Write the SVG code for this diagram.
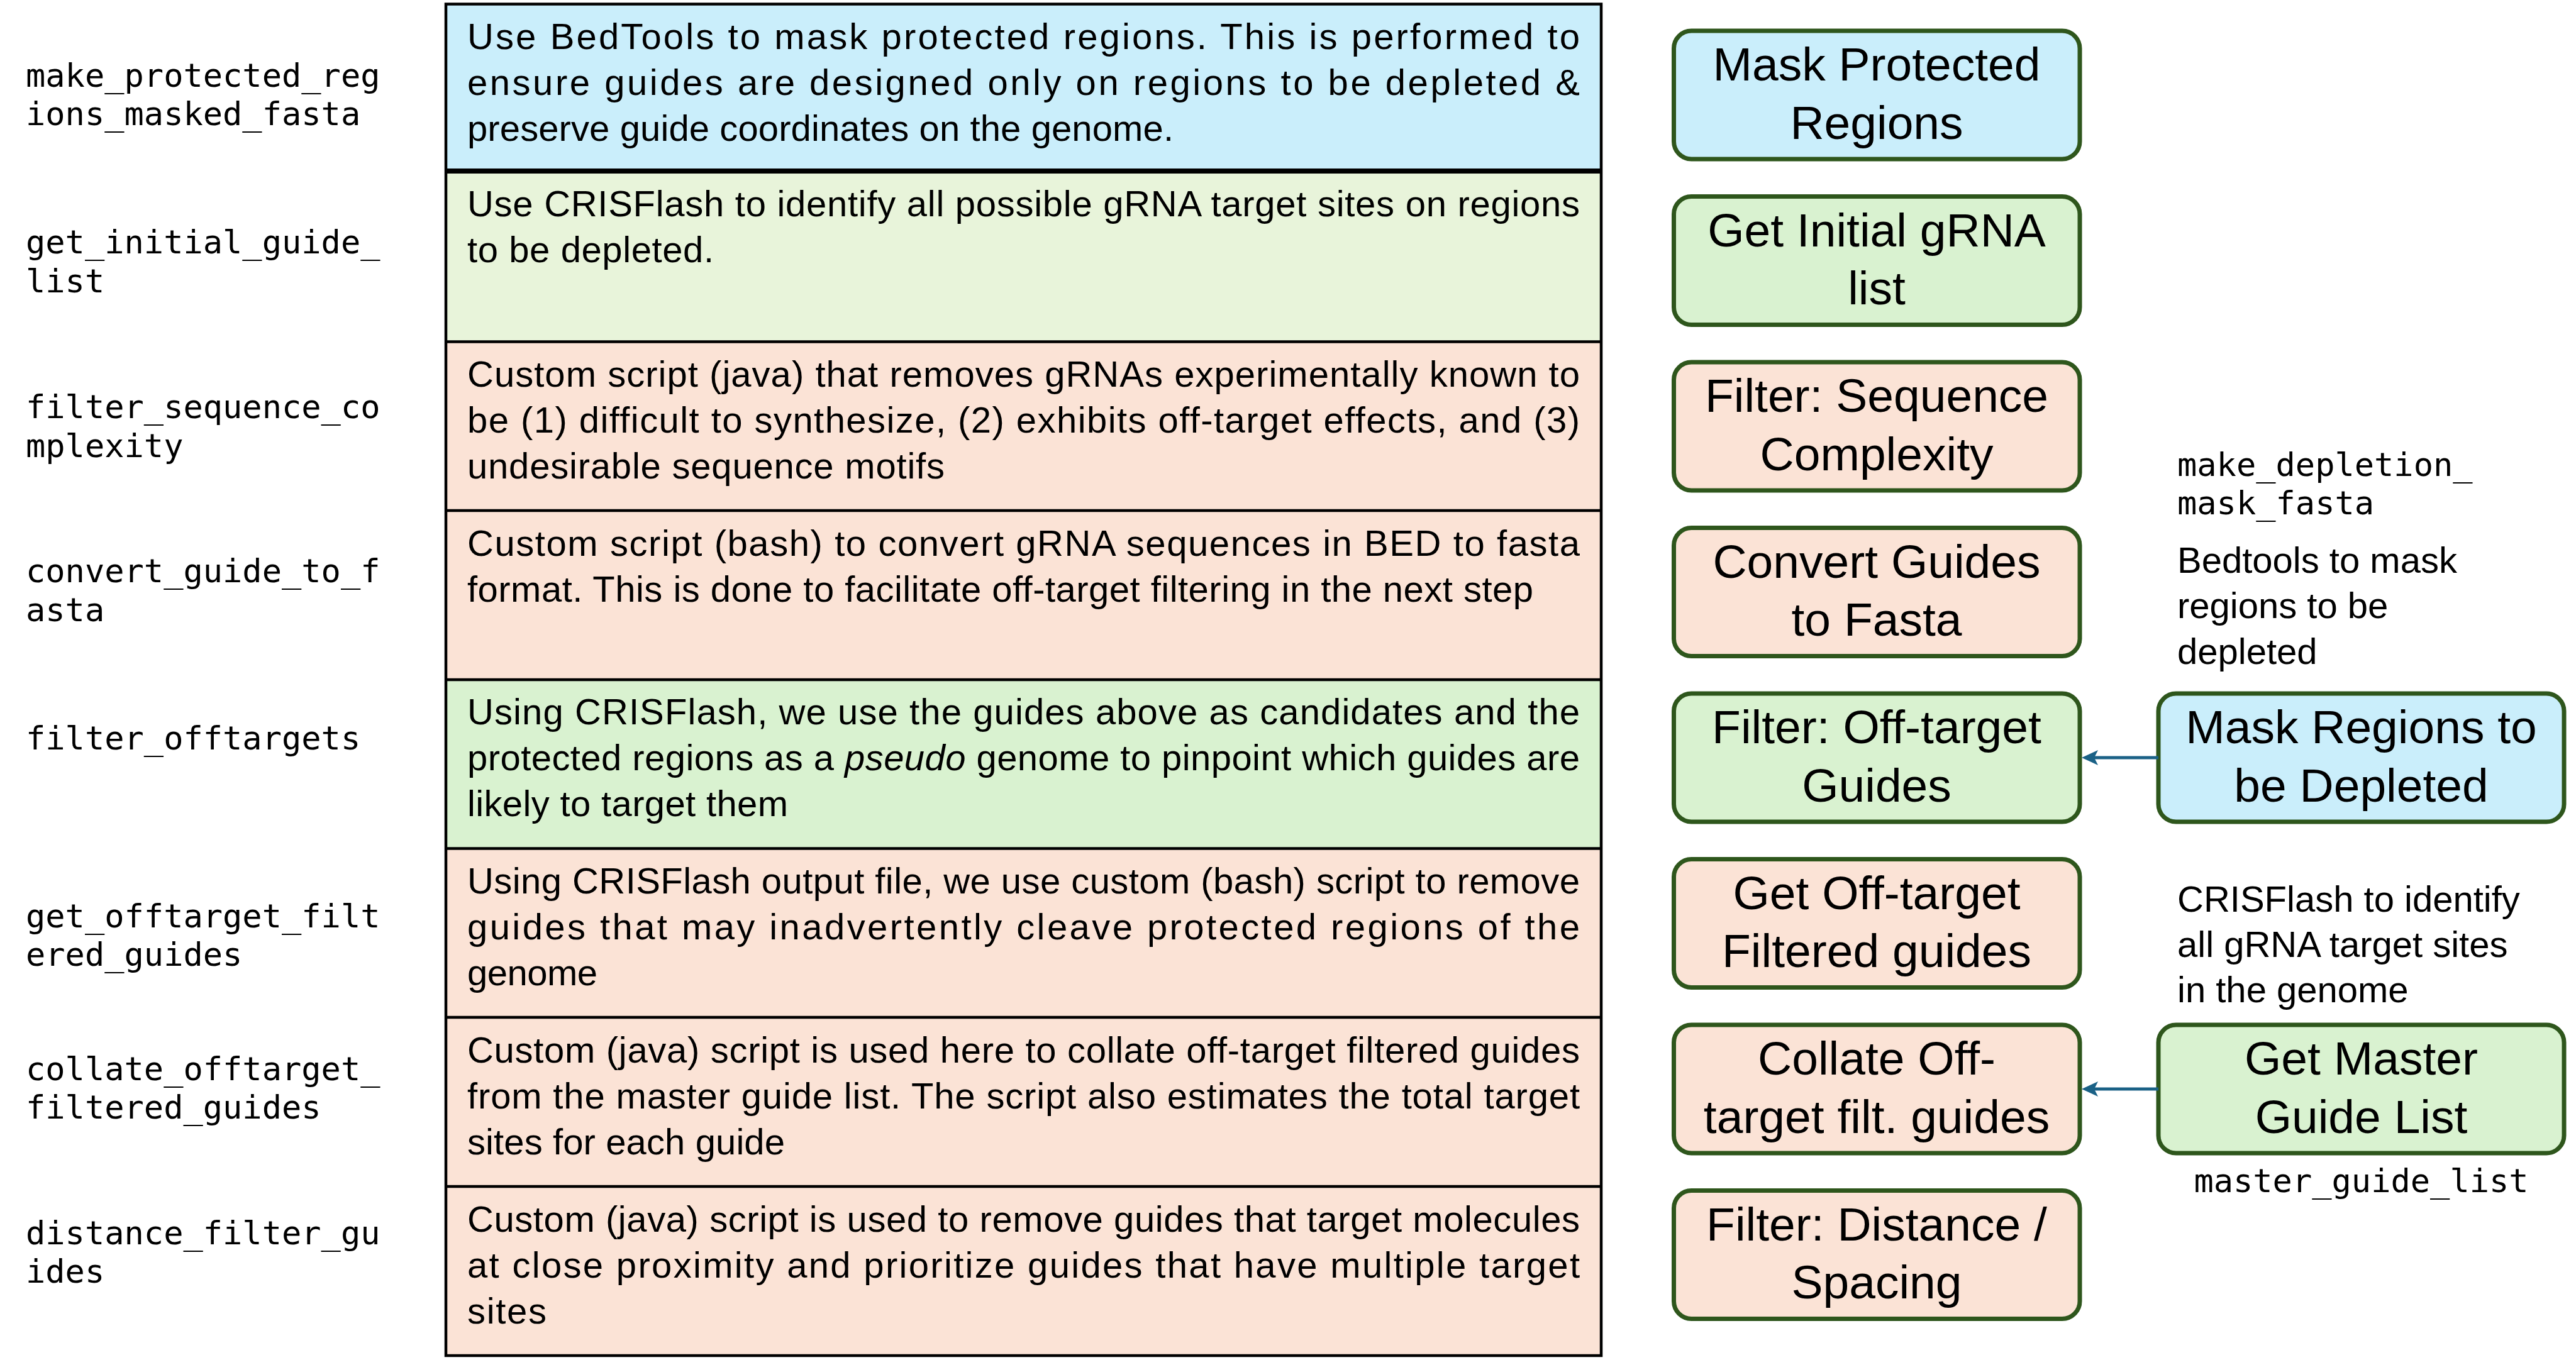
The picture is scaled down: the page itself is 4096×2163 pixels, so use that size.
<svg xmlns="http://www.w3.org/2000/svg" width="4096" height="2163" viewBox="0 0 4096 2163">
<style>
.lbl{font-family:"DejaVu Sans Mono","Liberation Mono",monospace;font-size:52px;fill:#000}
.txt{font-family:"Liberation Sans",Arial,sans-serif;font-size:58px;fill:#000}
.bt{font-family:"Liberation Sans",Arial,sans-serif;font-size:75px;fill:#000;text-anchor:middle}
.box{stroke:#2E561C;stroke-width:7}
.blue{fill:#CAEEFB}.green{fill:#D9F2D0}.peach{fill:#FBE3D6}.pgreen{fill:#E8F4DA}
.div{stroke:#000;stroke-width:4.5}
.conn{stroke:#1A6186;stroke-width:5;fill:none}
</style>
<defs>
<marker id="ah" markerUnits="userSpaceOnUse" markerWidth="26" markerHeight="24" viewBox="0 0 26 24" refX="6" refY="12" orient="auto"><path d="M0,0 L26,12 L0,24 L6,12 Z" fill="#1A6186"/></marker>
</defs>
<rect width="4096" height="2163" fill="#fff"/>

<g id="table">
<g id="row1">
<rect x="709" y="6.5" width="1837" height="265.5" class="blue"/>
<text class="lbl" x="41" y="138">make_protected_reg</text>
<text class="lbl" x="41" y="199">ions_masked_fasta</text>
<text class="txt" x="743" y="78" textLength="1769">Use BedTools to mask protected regions. This is performed to</text>
<text class="txt" x="743" y="151" textLength="1769">ensure guides are designed only on regions to be depleted &amp;</text>
<text class="txt" x="743" y="224" textLength="1123">preserve guide coordinates on the genome.</text>
</g>
<g id="row2">
<rect x="709" y="272" width="1837" height="271.5" class="pgreen"/>
<text class="lbl" x="41" y="403">get_initial_guide_</text>
<text class="lbl" x="41" y="465">list</text>
<text class="txt" x="743" y="344" textLength="1769">Use CRISFlash to identify all possible gRNA target sites on regions</text>
<text class="txt" x="743" y="417" textLength="392">to be depleted.</text>
</g>
<g id="row3">
<rect x="709" y="543.5" width="1837" height="268.5" class="peach"/>
<text class="lbl" x="41" y="665">filter_sequence_co</text>
<text class="lbl" x="41" y="727">mplexity</text>
<text class="txt" x="743" y="615" textLength="1769">Custom script (java) that removes gRNAs experimentally known to</text>
<text class="txt" x="743" y="688" textLength="1769">be (1) difficult to synthesize, (2) exhibits off-target effects, and (3)</text>
<text class="txt" x="743" y="761" textLength="759">undesirable sequence motifs</text>
</g>
<g id="row4">
<rect x="709" y="812" width="1837" height="269" class="peach"/>
<text class="lbl" x="41" y="926">convert_guide_to_f</text>
<text class="lbl" x="41" y="988">asta</text>
<text class="txt" x="743" y="883.5" textLength="1769">Custom script (bash) to convert gRNA sequences in BED to fasta</text>
<text class="txt" x="743" y="956.5" textLength="1695">format. This is done to facilitate off-target filtering in the next step</text>
</g>
<g id="row5">
<rect x="709" y="1081" width="1837" height="268.5" class="green"/>
<text class="lbl" x="41" y="1192">filter_offtargets</text>
<text class="txt" x="743" y="1152" textLength="1769">Using CRISFlash, we use the guides above as candidates and the</text>
<text class="txt" x="743" y="1225" textLength="1769">protected regions as a <tspan font-style="italic">pseudo</tspan> genome to pinpoint which guides are</text>
<text class="txt" x="743" y="1298" textLength="510">likely to target them</text>
</g>
<g id="row6">
<rect x="709" y="1349.5" width="1837" height="268.5" class="peach"/>
<text class="lbl" x="41" y="1475">get_offtarget_filt</text>
<text class="lbl" x="41" y="1536">ered_guides</text>
<text class="txt" x="743" y="1420.5" textLength="1769">Using CRISFlash output file, we use custom (bash) script to remove</text>
<text class="txt" x="743" y="1493.5" textLength="1769">guides that may inadvertently cleave protected regions of the</text>
<text class="txt" x="743" y="1566.5" textLength="207">genome</text>
</g>
<g id="row7">
<rect x="709" y="1618" width="1837" height="269" class="peach"/>
<text class="lbl" x="41" y="1718">collate_offtarget_</text>
<text class="lbl" x="41" y="1779">filtered_guides</text>
<text class="txt" x="743" y="1689.5" textLength="1769">Custom (java) script is used here to collate off-target filtered guides</text>
<text class="txt" x="743" y="1762.5" textLength="1769">from the master guide list. The script also estimates the total target</text>
<text class="txt" x="743" y="1835.5" textLength="505">sites for each guide</text>
</g>
<g id="row8">
<rect x="709" y="1887" width="1837" height="269" class="peach"/>
<text class="lbl" x="41" y="1979">distance_filter_gu</text>
<text class="lbl" x="41" y="2040">ides</text>
<text class="txt" x="743" y="1958.5" textLength="1769">Custom (java) script is used to remove guides that target molecules</text>
<text class="txt" x="743" y="2031.5" textLength="1769">at close proximity and prioritize guides that have multiple target</text>
<text class="txt" x="743" y="2104.5" textLength="126">sites</text>
</g>
<g id="table-lines">
<line x1="709" y1="272" x2="2546" y2="272" stroke="#000" stroke-width="8"/>
<line x1="709" y1="543.5" x2="2546" y2="543.5" class="div"/>
<line x1="709" y1="812" x2="2546" y2="812" class="div"/>
<line x1="709" y1="1081" x2="2546" y2="1081" class="div"/>
<line x1="709" y1="1349.5" x2="2546" y2="1349.5" class="div"/>
<line x1="709" y1="1618" x2="2546" y2="1618" class="div"/>
<line x1="709" y1="1887" x2="2546" y2="1887" class="div"/>
<rect x="709" y="6.5" width="1837" height="2149.5" fill="none" stroke="#000" stroke-width="4.5"/>
</g>
</g>

<g id="n1"><rect class="box blue" x="2661.5" y="49" width="645.5" height="204" rx="28"/><text class="bt" x="2984" y="128">Mask Protected</text><text class="bt" x="2984" y="220.5">Regions</text></g>
<g id="n2"><rect class="box green" x="2661.5" y="312.5" width="645.5" height="204" rx="28"/><text class="bt" x="2984" y="391.5">Get Initial gRNA</text><text class="bt" x="2984" y="484">list</text></g>
<g id="n3"><rect class="box peach" x="2661.5" y="576" width="645.5" height="204" rx="28"/><text class="bt" x="2984" y="655">Filter: Sequence</text><text class="bt" x="2984" y="747.5">Complexity</text></g>
<g id="n4"><rect class="box peach" x="2661.5" y="839.5" width="645.5" height="204" rx="28"/><text class="bt" x="2984" y="918.5">Convert Guides</text><text class="bt" x="2984" y="1011">to Fasta</text></g>
<g id="n5"><rect class="box green" x="2661.5" y="1103" width="645.5" height="204" rx="28"/><text class="bt" x="2984" y="1182">Filter: Off-target</text><text class="bt" x="2984" y="1274.5">Guides</text></g>
<g id="n6"><rect class="box peach" x="2661.5" y="1366.5" width="645.5" height="204" rx="28"/><text class="bt" x="2984" y="1445.5">Get Off-target</text><text class="bt" x="2984" y="1538">Filtered guides</text></g>
<g id="n7"><rect class="box peach" x="2661.5" y="1630" width="645.5" height="204" rx="28"/><text class="bt" x="2984" y="1709">Collate Off-</text><text class="bt" x="2984" y="1801.5">target filt. guides</text></g>
<g id="n8"><rect class="box peach" x="2661.5" y="1893.5" width="645.5" height="204" rx="28"/><text class="bt" x="2984" y="1972.5">Filter: Distance /</text><text class="bt" x="2984" y="2065">Spacing</text></g>
<g id="n9"><rect class="box blue" x="3432" y="1103" width="645" height="204" rx="28"/><text class="bt" x="3754.5" y="1182">Mask Regions to</text><text class="bt" x="3754.5" y="1274.5">be Depleted</text></g>
<g id="n10"><rect class="box green" x="3432" y="1630" width="645" height="204" rx="28"/><text class="bt" x="3754.5" y="1709">Get Master</text><text class="bt" x="3754.5" y="1801.5">Guide List</text></g>

<g id="notes">
<text class="lbl" x="3462" y="757">make_depletion_</text>
<text class="lbl" x="3462" y="818">mask_fasta</text>
<text class="txt" x="3462" y="911">Bedtools to mask</text>
<text class="txt" x="3462" y="983">regions to be</text>
<text class="txt" x="3462" y="1056">depleted</text>
<text class="txt" x="3462" y="1450">CRISFlash to identify</text>
<text class="txt" x="3462" y="1522">all gRNA target sites</text>
<text class="txt" x="3462" y="1594">in the genome</text>
<text class="lbl" x="3754.5" y="1896" text-anchor="middle">master_guide_list</text>
</g>

<g id="connectors">
<line class="conn" x1="3432" y1="1205" x2="3330" y2="1205" marker-end="url(#ah)"/>
<line class="conn" x1="3432" y1="1732" x2="3330" y2="1732" marker-end="url(#ah)"/>
</g>
</svg>
